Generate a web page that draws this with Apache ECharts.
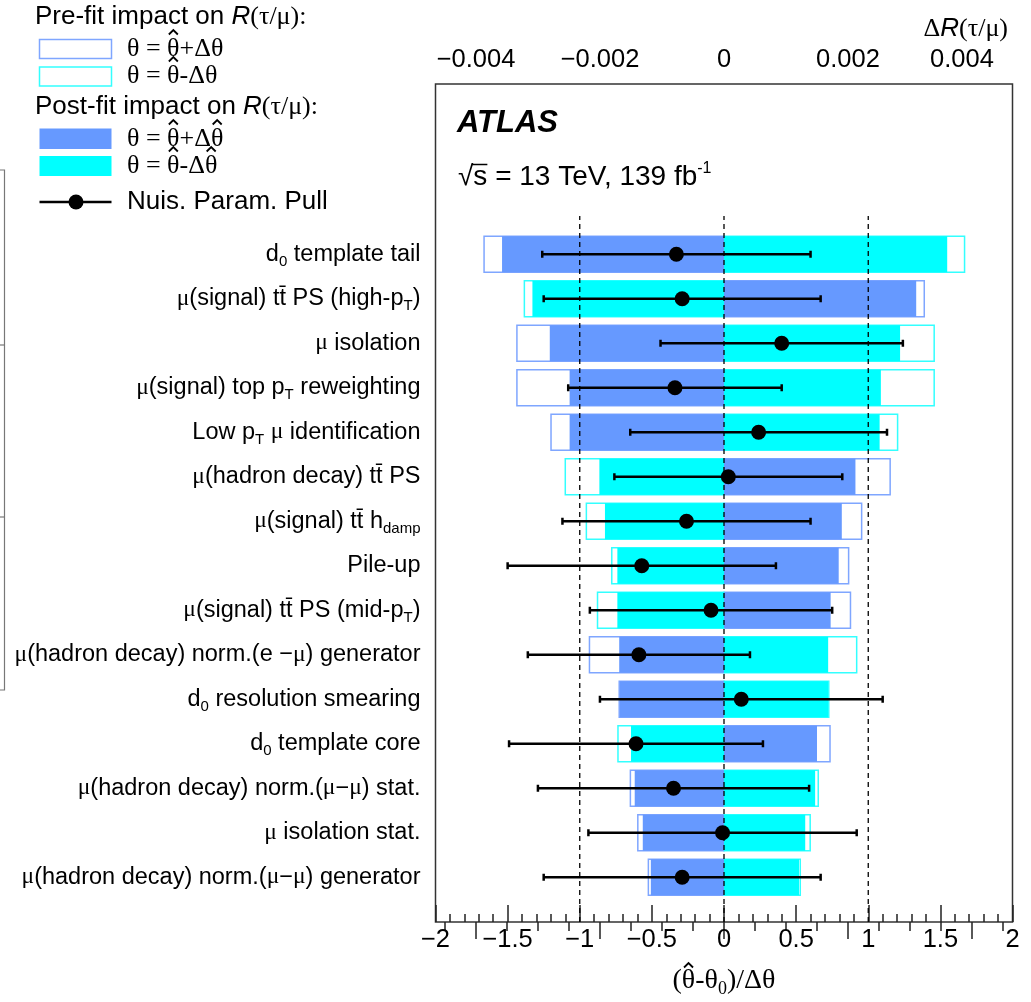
<!DOCTYPE html>
<html><head><meta charset="utf-8">
<script src="https://cdn.jsdelivr.net/npm/echarts@6/dist/echarts.min.js"></script>
<style>html,body{margin:0;padding:0;background:#fff}#c{width:1031px;height:1002px}</style>
</head><body><div id="c"></div>
<script>
// ---------------- data ----------------
const categories = [
  'd_{0} template tail',
  'μ(signal) tt\u0304 PS (high-p_{T})',
  'μ isolation',
  'μ(signal) top p_{T} reweighting',
  'Low p_{T} μ identification',
  'μ(hadron decay) tt\u0304 PS',
  'μ(signal) tt\u0304 h_{damp}',
  'Pile-up',
  'μ(signal) tt\u0304 PS (mid-p_{T})',
  'μ(hadron decay) norm.(e −μ) generator',
  'd_{0} resolution smearing',
  'd_{0} template core',
  'μ(hadron decay) norm.(μ−μ) stat.',
  'μ isolation stat.',
  'μ(hadron decay) norm.(μ−μ) generator'
];
// impact on R(tau/mu) (top axis units)
const prefitUp    = [-0.00387, 0.00323, -0.00334, -0.00334, -0.00279, 0.00268, 0.00222, 0.00201, 0.00204, -0.00217, -0.00169, 0.00171, -0.00151, -0.00139, -0.00122];
const prefitDown  = [ 0.00388, -0.00322, 0.00339, 0.00339, 0.00280, -0.00256, -0.00222, -0.00181, -0.00204, 0.00214, 0.00169, -0.00171, 0.00152, 0.00139, 0.00123];
const postfitUp   = [-0.00358, 0.00310, -0.00281, -0.00249, -0.00249, 0.00212, 0.00190, 0.00185, 0.00172, -0.00169, -0.00168, 0.00150, -0.00144, -0.00131, -0.00118];
const postfitDown = [ 0.00360, -0.00309, 0.00284, 0.00253, 0.00251, -0.00201, -0.00192, -0.00172, -0.00172, 0.00168, 0.00168, -0.00150, 0.00147, 0.00131, 0.00121];
// nuisance parameter pulls (bottom axis units)
const pulls      = [-0.33, -0.29, 0.40, -0.34, 0.24, 0.03, -0.26, -0.57, -0.09, -0.59, 0.12, -0.61, -0.35, -0.01, -0.29];
const pullErrors = [ 0.93, 0.96, 0.84, 0.74, 0.89, 0.79, 0.86, 0.93, 0.84, 0.77, 0.98, 0.88, 0.94, 0.93, 0.96];
const referenceLines = [-1, 0, 1];
const bottomTicks = {min: -2, max: 2, interval: 0.5};
const topTicks = {min: -0.004, max: 0.004, interval: 0.002};
const topMinor = {min: -0.0045, max: 0.0045, interval: 0.0005};

// ---------------- styles ----------------
const SANS = 'Liberation Sans', SERIF = 'Liberation Serif';
const BLUE = '#6699ff', CYAN = '#00ffff';
const BLUE_LINE = '#7fa6ff', CYAN_LINE = '#33ffff';
const AXC = '#222';
const minus = s => s.replace('-', '\u2212');

const mctx = document.createElement('canvas').getContext('2d');
function tw(text, font) { mctx.font = font; return mctx.measureText(text).width; }
function hat(cx, cy) {
  return {type: 'polyline', shape: {points: [[cx - 4.5, cy - 14.5], [cx, cy - 19], [cx + 4.5, cy - 14.5]]},
    style: {stroke: '#000', lineWidth: 1.8, fill: null}};
}

const chart = echarts.init(document.getElementById('c'));

function toRich(s) {
  return s.replace(/μ/g, '{mu|μ}').replace(/_\{([^}]*)\}/g, '{sub|$1}');
}

function barRender(color, filled) {
  return function (params, api) {
    const v = api.value(0), idx = api.value(1);
    const p0 = api.coord([0, idx]), p1 = api.coord([v, idx]);
    const h = api.size([0, 1])[1] * 0.81;
    const x = Math.min(p0[0], p1[0]), w = Math.abs(p1[0] - p0[0]);
    return {
      type: 'rect',
      shape: {x: x, y: p0[1] - h / 2, width: w, height: h},
      style: filled ? {fill: color} : {fill: '#fff', stroke: color, lineWidth: 1.5}
    };
  };
}

const LBL = 23.5;
const labelRich = {
  mu: {fontFamily: SERIF, fontSize: LBL, color: '#000', lineHeight: 30},
  sub: {fontFamily: SANS, fontSize: 15, color: '#000', verticalAlign: 'bottom', lineHeight: 17}
};

const FR = {left: 435.5, top: 84, width: 577, height: 838};
const ROWS = {top: 232, height: 667.5};

// legend / annotation geometry
const LF = 26;
const serifF = LF + 'px ' + SERIF;
const LX = 127;
const legendRows = [
  {y: 49, text: 'θ = θ+Δθ', hats: ['θ = ']},
  {y: 76, text: 'θ = θ-Δθ', hats: ['θ = ']},
  {y: 139, text: 'θ = θ+Δθ', hats: ['θ = ', 'θ = θ+Δ']},
  {y: 166, text: 'θ = θ-Δθ', hats: ['θ = ', 'θ = θ-Δ']}
];
const legendGraphics = [];
legendRows.forEach(r => {
  legendGraphics.push({type: 'text', x: LX, y: r.y, style: {text: r.text, font: serifF, fill: '#000', verticalAlign: 'middle', textVerticalAlign: 'middle'}});
  r.hats.forEach(p => legendGraphics.push(hat(LX + tw(p, serifF) + tw('θ', serifF) / 2, r.y)));
});

// bottom axis title with hat
const TF = 28, TSF = 18;
const tMain = TF + 'px ' + SERIF, tSub = TSF + 'px ' + SERIF;
const tW = tw('(θ-θ', tMain) + tw('0', tSub) + tw(')/Δθ', tMain);
const tX0 = 724 - tW / 2, tY = 981;
const titleGraphics = [
  {type: 'text', x: tX0, y: tY, style: {
    text: '{s|(θ-θ}{sub|0}{s|)/Δθ}', verticalAlign: 'middle', textVerticalAlign: 'middle',
    rich: {s: {fontFamily: SERIF, fontSize: TF, fill: '#000', color: '#000', lineHeight: 34},
           sub: {fontFamily: SERIF, fontSize: TSF, fill: '#000', color: '#000', verticalAlign: 'bottom', lineHeight: 20}}}},
  hat(tX0 + tw('(', tMain) + tw('θ', tMain) / 2, tY + 1)
];

// sqrt(s) label with overline
const EF = 28, eFont = EF + 'px ' + SANS, eX = 458, eY = 177;
const sqrtGraphics = [
  {type: 'text', x: eX, y: eY, style: {
    text: '{a|√s = 13 TeV, 139 fb}{sup|-1}', verticalAlign: 'middle', textVerticalAlign: 'middle',
    rich: {a: {fontFamily: SANS, fontSize: EF, fill: '#000', color: '#000', lineHeight: 32},
           sup: {fontFamily: SANS, fontSize: 16, fill: '#000', color: '#000', verticalAlign: 'top', lineHeight: 16}}}},
  {type: 'line', shape: {x1: eX + tw('√', eFont) - 1.5, y1: eY - 12.5, x2: eX + tw('√s', eFont), y2: eY - 12.5},
    style: {stroke: '#000', lineWidth: 1.5}}
];

const option = {
  animation: false,
  backgroundColor: '#fff',
  grid: [
    {left: FR.left, top: FR.top, width: FR.width, height: FR.height, show: true, borderColor: '#333', borderWidth: 1.5, outerBoundsMode: 'none', containLabel: false},
    {left: 445, top: FR.top, width: 558, height: FR.height, outerBoundsMode: 'none', containLabel: false},
    {left: 476, top: FR.top, width: 496, height: FR.height, outerBoundsMode: 'none', containLabel: false},
    {left: FR.left, top: ROWS.top, width: FR.width, height: ROWS.height, outerBoundsMode: 'none', containLabel: false},
    {left: 445, top: ROWS.top, width: 558, height: ROWS.height, outerBoundsMode: 'none', containLabel: false}
  ],
  xAxis: [
    {gridIndex: 0, type: 'value', position: 'bottom', min: bottomTicks.min, max: bottomTicks.max, interval: bottomTicks.interval,
      axisLine: {show: false}, splitLine: {show: false},
      axisTick: {show: true, inside: true, length: 17, lineStyle: {color: AXC, width: 1.5}},
      minorTick: {show: true, splitNumber: 5, length: 8, lineStyle: {color: AXC, width: 1.5}},
      minorSplitLine: {show: false},
      axisLabel: {show: true, margin: 5, fontFamily: SANS, fontSize: 25.5, color: '#000',
        formatter: v => minus(String(v)), showMinLabel: true, showMaxLabel: true}
    },
    {gridIndex: 1, type: 'value', position: 'top', min: topMinor.min, max: topMinor.max, interval: topMinor.interval,
      axisLine: {show: false}, splitLine: {show: false}, axisLabel: {show: false},
      axisTick: {show: true, inside: true, length: 9, lineStyle: {color: AXC, width: 1.5}}
    },
    {gridIndex: 2, type: 'value', position: 'top', min: topTicks.min, max: topTicks.max, interval: topTicks.interval,
      axisLine: {show: false}, splitLine: {show: false},
      axisTick: {show: true, inside: true, length: 17, lineStyle: {color: AXC, width: 1.5}},
      axisLabel: {show: true, margin: 11, fontFamily: SANS, fontSize: 25.5, color: '#000', showMinLabel: true, showMaxLabel: true,
        formatter: v => {
          const s = v === 0 ? '0' : minus(v.toFixed(3));
          return v >= topTicks.max - 1e-9 ? '{r|' + s + '}' : s;
        },
        rich: {r: {fontFamily: SANS, fontSize: 25.5, color: '#000', padding: [0, 20, 0, 0]}}
      }
    },
    {gridIndex: 3, type: 'value', min: bottomTicks.min, max: bottomTicks.max, show: false},
    {gridIndex: 4, type: 'value', min: topMinor.min, max: topMinor.max, show: false}
  ],
  yAxis: [
    {gridIndex: 0, type: 'value', min: 0, max: 1, show: false},
    {gridIndex: 1, type: 'value', show: false},
    {gridIndex: 2, type: 'value', show: false},
    {gridIndex: 3, type: 'category', data: categories, inverse: true,
      axisLine: {show: false}, axisTick: {show: false}, splitLine: {show: false},
      axisLabel: {show: true, interval: 0, margin: 15, fontFamily: SANS, fontSize: LBL, color: '#000', lineHeight: 30,
        formatter: v => toRich(v), rich: labelRich}
    },
    {gridIndex: 4, type: 'category', data: categories, inverse: true, show: false}
  ],
  series: [
    {type: 'custom', name: 'Pre-fit +', xAxisIndex: 4, yAxisIndex: 4, z: 1,
      data: prefitUp.map((v, i) => [v, i]), encode: {x: 0, y: 1}, renderItem: barRender(BLUE_LINE, false)},
    {type: 'custom', name: 'Pre-fit -', xAxisIndex: 4, yAxisIndex: 4, z: 1,
      data: prefitDown.map((v, i) => [v, i]), encode: {x: 0, y: 1}, renderItem: barRender(CYAN_LINE, false)},
    {type: 'custom', name: 'Post-fit +', xAxisIndex: 4, yAxisIndex: 4, z: 2,
      data: postfitUp.map((v, i) => [v, i]), encode: {x: 0, y: 1}, renderItem: barRender(BLUE, true)},
    {type: 'custom', name: 'Post-fit -', xAxisIndex: 4, yAxisIndex: 4, z: 2,
      data: postfitDown.map((v, i) => [v, i]), encode: {x: 0, y: 1}, renderItem: barRender(CYAN, true)},
    {type: 'custom', name: 'ref', xAxisIndex: 0, yAxisIndex: 0, z: 3,
      data: referenceLines.map(v => [v]), encode: {x: 0},
      renderItem: function (params, api) {
        const a = api.coord([api.value(0), 0]), b = api.coord([api.value(0), 0.8425]);
        return {type: 'line', shape: {x1: a[0], y1: a[1], x2: b[0], y2: b[1]},
          style: {stroke: '#000', lineWidth: 1.3, lineDash: [5, 4]}};
      }},
    {type: 'custom', name: 'Pull error', xAxisIndex: 3, yAxisIndex: 3, z: 4,
      data: pulls.map((p, i) => [p - pullErrors[i], p + pullErrors[i], i]), encode: {x: [0, 1], y: 2},
      renderItem: function (params, api) {
        const lo = api.coord([api.value(0), api.value(2)]), hi = api.coord([api.value(1), api.value(2)]);
        const c = 3.5, st = {stroke: '#000', lineWidth: 2.5};
        return {type: 'group', children: [
          {type: 'line', shape: {x1: lo[0], y1: lo[1], x2: hi[0], y2: hi[1]}, style: st},
          {type: 'line', shape: {x1: lo[0], y1: lo[1] - c, x2: lo[0], y2: lo[1] + c}, style: st},
          {type: 'line', shape: {x1: hi[0], y1: hi[1] - c, x2: hi[0], y2: hi[1] + c}, style: st}
        ]};
      }},
    {type: 'scatter', name: 'Nuis. Param. Pull', xAxisIndex: 3, yAxisIndex: 3, z: 5,
      data: pulls.map((p, i) => [p, i]), symbol: 'circle', symbolSize: 15,
      itemStyle: {color: '#000', opacity: 1}}
  ],
  graphic: [
    {type: 'text', x: 457, y: 123, style: {text: 'ATLAS', font: 'italic bold 31px ' + SANS, fill: '#000', verticalAlign: 'middle', textVerticalAlign: 'middle'}},
    {type: 'text', x: 1008, y: 29, style: {
      text: '{g|Δ}{i|R}{g|(τ/μ)}', align: 'right', textAlign: 'right', verticalAlign: 'middle', textVerticalAlign: 'middle',
      rich: {g: {fontFamily: SERIF, fontSize: 26, fill: '#000', color: '#000'},
             i: {fontFamily: SANS, fontStyle: 'italic', fontSize: 26, fill: '#000', color: '#000'}}}},
    {type: 'text', x: 35, y: 17, style: {
      text: '{n|Pre-fit impact on }{i|R}{g|(τ/μ):}', verticalAlign: 'middle', textVerticalAlign: 'middle',
      rich: {n: {fontFamily: SANS, fontSize: LF, fill: '#000', color: '#000'},
             i: {fontFamily: SANS, fontStyle: 'italic', fontSize: LF, fill: '#000', color: '#000'},
             g: {fontFamily: SERIF, fontSize: LF, fill: '#000', color: '#000'}}}},
    {type: 'rect', shape: {x: 39.5, y: 39.5, width: 72, height: 19}, style: {fill: '#fff', stroke: BLUE_LINE, lineWidth: 1.5}},
    {type: 'rect', shape: {x: 39.5, y: 67, width: 72, height: 19}, style: {fill: '#fff', stroke: CYAN_LINE, lineWidth: 1.5}},
    {type: 'text', x: 35, y: 107, style: {
      text: '{n|Post-fit impact on }{i|R}{g|(τ/μ):}', verticalAlign: 'middle', textVerticalAlign: 'middle',
      rich: {n: {fontFamily: SANS, fontSize: LF, fill: '#000', color: '#000'},
             i: {fontFamily: SANS, fontStyle: 'italic', fontSize: LF, fill: '#000', color: '#000'},
             g: {fontFamily: SERIF, fontSize: LF, fill: '#000', color: '#000'}}}},
    {type: 'rect', shape: {x: 39.5, y: 128.5, width: 72, height: 20.5}, style: {fill: BLUE}},
    {type: 'rect', shape: {x: 39.5, y: 156, width: 72, height: 20}, style: {fill: CYAN}},
    {type: 'line', shape: {x1: 39.5, y1: 202, x2: 111.5, y2: 202}, style: {stroke: '#000', lineWidth: 2.5}},
    {type: 'circle', shape: {cx: 76, cy: 202, r: 7.5}, style: {fill: '#000'}},
    {type: 'text', x: 127, y: 202, style: {text: 'Nuis. Param. Pull', font: LF + 'px ' + SANS, fill: '#000', verticalAlign: 'middle', textVerticalAlign: 'middle'}},
    {type: 'polyline', shape: {points: [[0, 170], [4.5, 170], [4.5, 690], [0, 690]]}, style: {stroke: '#777', lineWidth: 1.2, fill: null}},
    {type: 'line', shape: {x1: 0, y1: 345, x2: 4.5, y2: 345}, style: {stroke: '#777', lineWidth: 1.2}},
    {type: 'line', shape: {x1: 0, y1: 517, x2: 4.5, y2: 517}, style: {stroke: '#777', lineWidth: 1.2}}
  ].concat(legendGraphics, titleGraphics, sqrtGraphics)
};
chart.setOption(option);
</script>
</body></html>
